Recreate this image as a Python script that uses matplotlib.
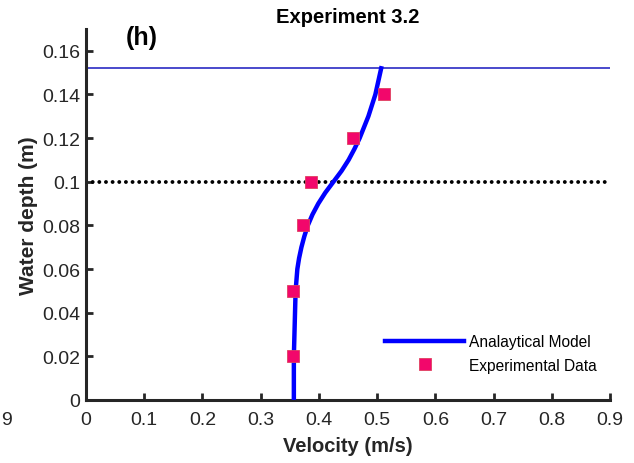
import matplotlib
matplotlib.use("Agg")
import matplotlib.pyplot as plt

plt.rcParams['font.family'] = ['Liberation Sans', 'DejaVu Sans']

# analytical model curve
model_depth = [0.0, 0.01, 0.02, 0.03, 0.04, 0.05, 0.06, 0.065, 0.07, 0.075,
               0.08, 0.085, 0.09, 0.095, 0.10, 0.105, 0.11, 0.115, 0.12,
               0.13, 0.14, 0.152]
model_vel = [0.357, 0.357, 0.357, 0.358, 0.359, 0.360, 0.363, 0.366, 0.370,
             0.375, 0.381, 0.389, 0.399, 0.411, 0.425, 0.439, 0.451, 0.461,
             0.470, 0.485, 0.497, 0.507]

# experimental points
exp_depth = [0.02, 0.05, 0.08, 0.10, 0.12, 0.14]
exp_vel = [0.356, 0.355, 0.372, 0.387, 0.458, 0.511]

water_surface = 0.152
interface = 0.1

xticks = [0, 0.1, 0.2, 0.3, 0.4, 0.5, 0.6, 0.7, 0.8, 0.9]
xlabels = ["0", "0.1", "0.2", "0.3", "0.4", "0.5", "0.6", "0.7", "0.8", "0.9"]
yticks = [0, 0.02, 0.04, 0.06, 0.08, 0.1, 0.12, 0.14, 0.16]
ylabels = ["0", "0.02", "0.04", "0.06", "0.08", "0.1", "0.12", "0.14", "0.16"]

fig = plt.figure(figsize=(6.34, 4.64), dpi=100)
ax = fig.add_axes([86/634, 1 - 401/464, (610 - 86)/634, (401 - 30)/464])

ax.axhline(water_surface, color="#3c3cc8", linewidth=1.3, zorder=1)
ax.plot([0, 0.9], [interface, interface], color="black", linewidth=2.8,
        linestyle=(0, (0.01, 1.7)), dash_capstyle="round", zorder=2)
ax.plot(model_vel, model_depth, color="#0000ff", linewidth=3.2,
        label="Analaytical Model", zorder=3)
ax.plot(exp_vel, exp_depth, linestyle="none", marker="s", markersize=9,
        markerfacecolor="#f2076b", markeredgecolor="#e0405e",
        markeredgewidth=0.6, label="Experimental Data", zorder=4)

ax.set_xlim(0, 0.9)
ax.set_ylim(0, 0.17)
ax.set_xticks(xticks)
ax.set_xticklabels(xlabels)
ax.set_yticks(yticks)
ax.set_yticklabels(ylabels)

for s in ["top", "right"]:
    ax.spines[s].set_visible(False)
for s in ["left", "bottom"]:
    ax.spines[s].set_linewidth(2.2)
    ax.spines[s].set_color("#262626")
ax.tick_params(direction="in", length=5, width=2, colors="#262626",
               labelsize=14, labelcolor="#262626")
ax.tick_params(axis="x", pad=8)
ax.tick_params(axis="y", pad=4)

ax.set_xlabel("Velocity (m/s)", fontsize=14.5, fontweight="bold",
              color="#262626", labelpad=6)
ax.set_ylabel("Water depth (m)", fontsize=15, fontweight="bold",
              color="#262626", labelpad=3)
ax.set_title("Experiment 3.2", fontsize=14.5, fontweight="bold", pad=5)

ax.text(0.095, 0.1665, "(h)", fontsize=18, fontweight="bold",
        ha="center", va="center")

leg = ax.legend(loc="lower left", bbox_to_anchor=(0.544, 0.036), frameon=False,
                fontsize=11.2, handlelength=5.1, handletextpad=0.3,
                labelspacing=0.55)

fig.text(6/634, 1 - 421/464, "9", fontsize=14, color="#262626",
         ha="center", va="center")

fig.savefig("out.png", dpi=100)
